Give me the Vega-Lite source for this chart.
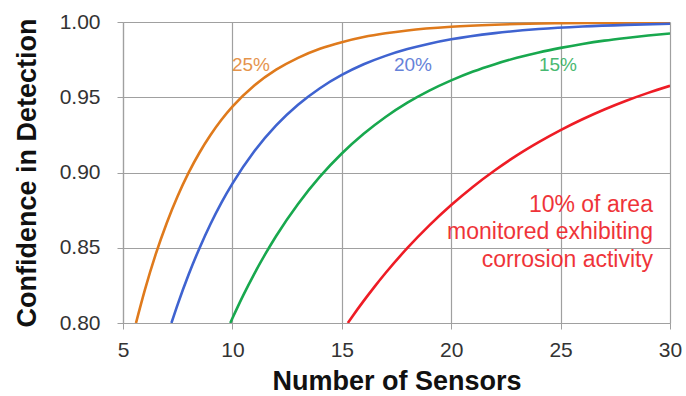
{
  "$schema": "https://vega.github.io/schema/vega-lite/v6.json",
  "width": 547,
  "height": 301,
  "autosize": {"type": "none"},
  "padding": {"left": 123, "top": 22, "right": 16, "bottom": 73},
  "background": "white",
  "config": {
    "view": {"stroke": null},
    "font": "Liberation Sans"
  },
  "datasets": {
    "curves": [
      {"series": "25%", "n": 5.594, "conf": 0.8},
      {"series": "25%", "n": 6, "conf": 0.822},
      {"series": "25%", "n": 6.5, "conf": 0.8459},
      {"series": "25%", "n": 7, "conf": 0.8665},
      {"series": "25%", "n": 7.5, "conf": 0.8844},
      {"series": "25%", "n": 8, "conf": 0.8999},
      {"series": "25%", "n": 8.5, "conf": 0.9133},
      {"series": "25%", "n": 9, "conf": 0.9249},
      {"series": "25%", "n": 9.5, "conf": 0.935},
      {"series": "25%", "n": 10, "conf": 0.9437},
      {"series": "25%", "n": 11, "conf": 0.9578},
      {"series": "25%", "n": 12, "conf": 0.9683},
      {"series": "25%", "n": 13, "conf": 0.9762},
      {"series": "25%", "n": 14, "conf": 0.9822},
      {"series": "25%", "n": 15, "conf": 0.9866},
      {"series": "25%", "n": 16, "conf": 0.99},
      {"series": "25%", "n": 17, "conf": 0.9925},
      {"series": "25%", "n": 18, "conf": 0.9944},
      {"series": "25%", "n": 20, "conf": 0.9968},
      {"series": "25%", "n": 22, "conf": 0.9982},
      {"series": "25%", "n": 25, "conf": 0.9992},
      {"series": "25%", "n": 30, "conf": 0.9998},
      {"series": "20%", "n": 7.213, "conf": 0.8},
      {"series": "20%", "n": 7.5, "conf": 0.8124},
      {"series": "20%", "n": 8, "conf": 0.8322},
      {"series": "20%", "n": 8.5, "conf": 0.8499},
      {"series": "20%", "n": 9, "conf": 0.8658},
      {"series": "20%", "n": 9.5, "conf": 0.88},
      {"series": "20%", "n": 10, "conf": 0.8926},
      {"series": "20%", "n": 11, "conf": 0.9141},
      {"series": "20%", "n": 12, "conf": 0.9313},
      {"series": "20%", "n": 13, "conf": 0.945},
      {"series": "20%", "n": 14, "conf": 0.956},
      {"series": "20%", "n": 15, "conf": 0.9648},
      {"series": "20%", "n": 16, "conf": 0.9719},
      {"series": "20%", "n": 17, "conf": 0.9775},
      {"series": "20%", "n": 18, "conf": 0.982},
      {"series": "20%", "n": 19, "conf": 0.9856},
      {"series": "20%", "n": 20, "conf": 0.9885},
      {"series": "20%", "n": 22, "conf": 0.9926},
      {"series": "20%", "n": 24, "conf": 0.9953},
      {"series": "20%", "n": 26, "conf": 0.997},
      {"series": "20%", "n": 28, "conf": 0.9981},
      {"series": "20%", "n": 30, "conf": 0.9988},
      {"series": "15%", "n": 9.903, "conf": 0.8},
      {"series": "15%", "n": 10, "conf": 0.8031},
      {"series": "15%", "n": 10.5, "conf": 0.8185},
      {"series": "15%", "n": 11, "conf": 0.8327},
      {"series": "15%", "n": 11.5, "conf": 0.8457},
      {"series": "15%", "n": 12, "conf": 0.8578},
      {"series": "15%", "n": 13, "conf": 0.8791},
      {"series": "15%", "n": 14, "conf": 0.8972},
      {"series": "15%", "n": 15, "conf": 0.9126},
      {"series": "15%", "n": 16, "conf": 0.9257},
      {"series": "15%", "n": 17, "conf": 0.9369},
      {"series": "15%", "n": 18, "conf": 0.9464},
      {"series": "15%", "n": 19, "conf": 0.9544},
      {"series": "15%", "n": 20, "conf": 0.9612},
      {"series": "15%", "n": 21, "conf": 0.9671},
      {"series": "15%", "n": 22, "conf": 0.972},
      {"series": "15%", "n": 23, "conf": 0.9762},
      {"series": "15%", "n": 24, "conf": 0.9798},
      {"series": "15%", "n": 25, "conf": 0.9828},
      {"series": "15%", "n": 26, "conf": 0.9854},
      {"series": "15%", "n": 27, "conf": 0.9876},
      {"series": "15%", "n": 28, "conf": 0.9894},
      {"series": "15%", "n": 29, "conf": 0.991},
      {"series": "15%", "n": 30, "conf": 0.9924},
      {"series": "10%", "n": 15.276, "conf": 0.8},
      {"series": "10%", "n": 15.5, "conf": 0.8047},
      {"series": "10%", "n": 16, "conf": 0.8147},
      {"series": "10%", "n": 16.5, "conf": 0.8242},
      {"series": "10%", "n": 17, "conf": 0.8332},
      {"series": "10%", "n": 18, "conf": 0.8499},
      {"series": "10%", "n": 19, "conf": 0.8649},
      {"series": "10%", "n": 20, "conf": 0.8784},
      {"series": "10%", "n": 21, "conf": 0.8906},
      {"series": "10%", "n": 22, "conf": 0.9015},
      {"series": "10%", "n": 23, "conf": 0.9114},
      {"series": "10%", "n": 24, "conf": 0.9202},
      {"series": "10%", "n": 25, "conf": 0.9282},
      {"series": "10%", "n": 26, "conf": 0.9354},
      {"series": "10%", "n": 27, "conf": 0.9419},
      {"series": "10%", "n": 28, "conf": 0.9477},
      {"series": "10%", "n": 29, "conf": 0.9529},
      {"series": "10%", "n": 30, "conf": 0.9576}
    ],
    "labels": [
      {"series": "25%", "text": "25%", "n": 10.85, "conf": 0.9714},
      {"series": "20%", "text": "20%", "n": 18.25, "conf": 0.9714},
      {"series": "15%", "text": "15%", "n": 24.88, "conf": 0.9714}
    ],
    "notes": [
      {"series": "10%", "text": "10% of area", "n": 29.22, "conf": 0.8784},
      {"series": "10%", "text": "monitored exhibiting", "n": 29.22, "conf": 0.8605},
      {"series": "10%", "text": "corrosion activity", "n": 29.22, "conf": 0.8419}
    ]
  },
  "layer": [
    {
      "data": {"name": "curves"},
      "mark": {"type": "line", "strokeWidth": 2.6, "interpolate": "monotone", "clip": true},
      "encoding": {
        "x": {
          "field": "n", "type": "quantitative",
          "scale": {"domain": [5, 30], "nice": false, "zero": false},
          "axis": {
            "title": "Number of Sensors",
            "values": [5, 10, 15, 20, 25, 30],
            "labelFlush": false,
            "grid": true, "gridColor": "#a0a0a0", "gridWidth": 1.2,
            "domainColor": "#a0a0a0", "domainWidth": 1.2,
            "tickColor": "#a0a0a0", "tickSize": 6,
            "labelFont": "Liberation Sans", "labelFontSize": 21, "labelColor": "#333333",
            "labelPadding": 10,
            "titleFont": "Liberation Sans", "titleFontSize": 27, "titleFontWeight": "bold", "titleColor": "#111111",
            "titlePadding": 8
          }
        },
        "y": {
          "field": "conf", "type": "quantitative",
          "scale": {"domain": [0.8, 1.0], "nice": false, "zero": false},
          "axis": {
            "title": "Confidence in Detection",
            "values": [0.8, 0.85, 0.9, 0.95, 1.0],
            "format": ".2f",
            "labelFlush": false,
            "grid": true, "gridColor": "#a0a0a0", "gridWidth": 1.2,
            "domainColor": "#a0a0a0", "domainWidth": 1.2,
            "tickColor": "#a0a0a0", "tickSize": 6,
            "labelFont": "Liberation Sans", "labelFontSize": 21, "labelColor": "#333333",
            "labelPadding": 17,
            "titleFont": "Liberation Sans", "titleFontSize": 27, "titleFontWeight": "bold", "titleColor": "#111111",
            "titlePadding": 18
          }
        },
        "color": {
          "field": "series", "type": "nominal",
          "scale": {"domain": ["25%", "20%", "15%", "10%"], "range": ["#df7a1c", "#3f63d0", "#18a84e", "#ee1c25"]},
          "legend": null
        },
        "detail": {"field": "series"}
      }
    },
    {
      "data": {"name": "labels"},
      "mark": {"type": "text", "font": "Liberation Sans", "fontSize": 19, "align": "center", "baseline": "middle", "opacity": 0.8},
      "encoding": {
        "x": {"field": "n", "type": "quantitative"},
        "y": {"field": "conf", "type": "quantitative"},
        "text": {"field": "text"},
        "color": {"field": "series", "type": "nominal", "legend": null}
      }
    },
    {
      "data": {"name": "notes"},
      "mark": {"type": "text", "font": "Liberation Sans", "fontSize": 23, "align": "right", "baseline": "middle", "opacity": 0.9},
      "encoding": {
        "x": {"field": "n", "type": "quantitative"},
        "y": {"field": "conf", "type": "quantitative"},
        "text": {"field": "text"},
        "color": {"field": "series", "type": "nominal", "legend": null}
      }
    }
  ]
}
